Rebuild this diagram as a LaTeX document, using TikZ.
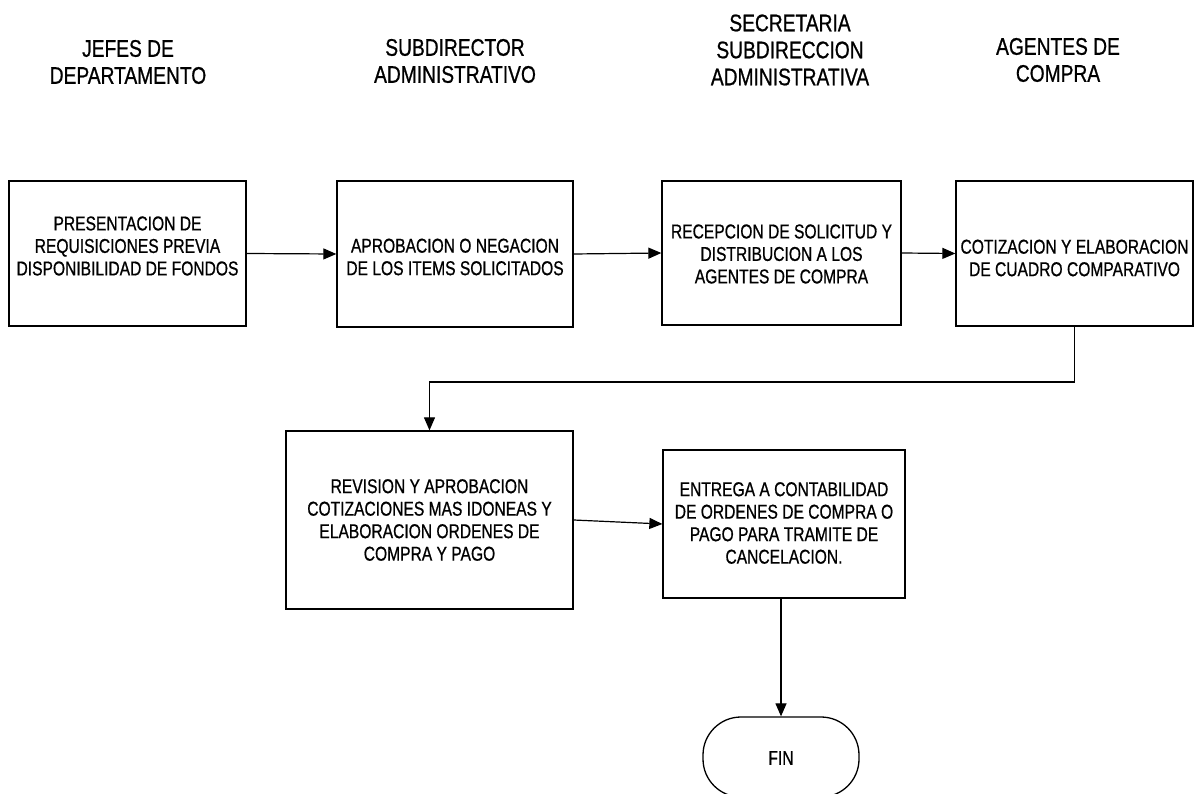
\documentclass[tikz,border=0pt]{standalone}
\usepackage{fontspec}
\setmainfont{Liberation Sans}[FakeStretch=0.78,FakeBold=0.8]
\newfontfamily\hdrfont{Liberation Sans}[FakeStretch=0.8,FakeBold=0.8]
\usetikzlibrary{arrows.meta}
\tikzset{
  procbox/.style={draw, line width=1.3pt, inner sep=0pt},
  boxtext/.style={align=center, inner sep=0pt, font=\fontsize{20}{22.5}\selectfont},
  header/.style={align=center, font=\hdrfont\fontsize{24}{27}\selectfont},
  flow/.style={line width=1.2pt, -{Triangle[length=13pt,width=11pt]}},
}
\begin{document}
\begin{tikzpicture}[x=1pt,y=-1pt]
\useasboundingbox (0,0) rectangle (1198,794);
% headers
\node[header] (h1) at (128,62) {JEFES DE\\DEPARTAMENTO};
\node[header] (h2) at (455,61) {SUBDIRECTOR\\ADMINISTRATIVO};
\node[header] (h3) at (790,50) {SECRETARIA\\SUBDIRECCION\\ADMINISTRATIVA};
\node[header] (h4) at (1058,60) {AGENTES DE\\COMPRA};
% boxes
\node[procbox, minimum width=237pt, minimum height=145pt] (b1) at (127.5,253.5) {};
\node[procbox, minimum width=236pt, minimum height=146pt] (b2) at (455,254) {};
\node[procbox, minimum width=239pt, minimum height=144pt] (b3) at (781.5,253) {};
\node[procbox, minimum width=237pt, minimum height=145pt] (b4) at (1074.5,253.5) {};
\node[procbox, minimum width=287pt, minimum height=178pt] (b5) at (429.5,520) {};
\node[procbox, minimum width=242pt, minimum height=148pt] (b6) at (784,524) {};
\node[procbox, minimum width=156pt, minimum height=80pt, rounded corners=38pt] (fin) at (781,757) {};
% box texts
\node[boxtext] (t1) at (127.5,246) {PRESENTACION DE\\REQUISICIONES PREVIA\\DISPONIBILIDAD DE FONDOS};
\node[boxtext] (t2) at (455,257) {APROBACION O NEGACION\\DE LOS ITEMS SOLICITADOS};
\node[boxtext] (t3) at (781.5,254) {RECEPCION DE SOLICITUD Y\\DISTRIBUCION A LOS\\AGENTES DE COMPRA};
\node[boxtext] (t4) at (1074.5,258) {COTIZACION Y ELABORACION\\DE CUADRO COMPARATIVO};
\node[boxtext] (t5) at (429.5,520) {REVISION Y APROBACION\\COTIZACIONES MAS IDONEAS Y\\ELABORACION ORDENES DE\\COMPRA Y PAGO};
\node[boxtext] (t6) at (784,523) {ENTREGA A CONTABILIDAD\\DE ORDENES DE COMPRA O\\PAGO PARA TRAMITE DE\\CANCELACION.};
\node[boxtext] (t7) at (781,758) {FIN};
% connectors
\draw[flow] (b1.east) -- (b2.west);
\draw[flow] (b2.east) -- (b3.west);
\draw[flow] (b3.east) -- (b4.west);
\coordinate (c1) at (1074.5,382);
\draw[flow] (b4.south) -- (c1) -| (b5.north);
\draw[flow] (b5.east) -- (b6.west);
\draw[flow] (b6.south -| fin.north) -- (fin.north);
\end{tikzpicture}
\end{document}
